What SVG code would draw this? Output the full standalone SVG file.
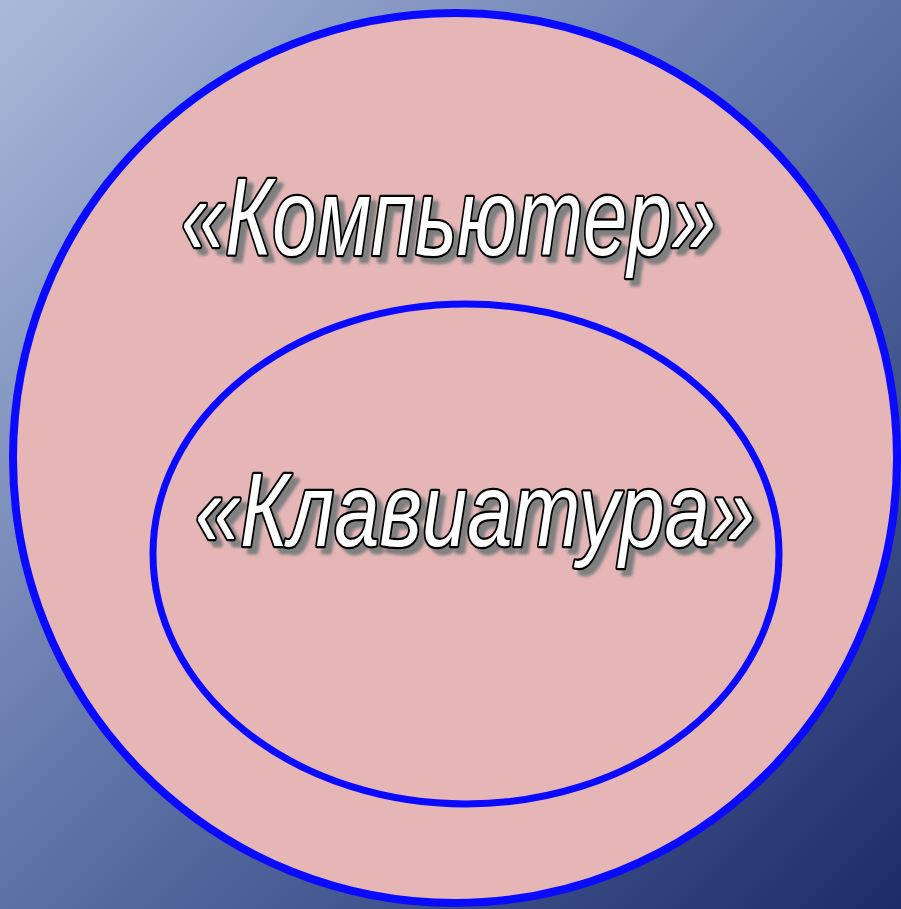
<svg xmlns="http://www.w3.org/2000/svg" width="901" height="909" viewBox="0 0 901 909">
  <defs>
    <linearGradient id="bg" x1="0" y1="0" x2="1" y2="1">
      <stop offset="0" stop-color="#aab9da"/>
      <stop offset="0.5" stop-color="#5d71a6"/>
      <stop offset="1" stop-color="#1c2c68"/>
    </linearGradient>
    <filter id="soft" x="-5%" y="-20%" width="110%" height="140%">
      <feGaussianBlur stdDeviation="1.5"/>
    </filter>
  </defs>
  <style>
    .set { fill: #e6b6b7; stroke: #0a0aff; }
    .lbl { font-family: "Liberation Sans", Arial, sans-serif; font-style: italic; }
    .shadow { fill: #808080; stroke: #808080; stroke-width: 5; stroke-linejoin: round; }
    .face { fill: #ffffff; stroke: #000000; stroke-width: 4.6; stroke-linejoin: round; paint-order: stroke; }
  </style>
  <rect x="0" y="0" width="901" height="909" fill="url(#bg)"/>
  <g id="computer">
    <ellipse class="set" cx="455" cy="458" rx="442" ry="445" stroke-width="8"/>
    <g class="lbl" font-size="110">
      <text class="shadow" x="187" y="261" textLength="535" lengthAdjust="spacingAndGlyphs" filter="url(#soft)">«Компьютер»</text>
      <text class="face" x="181" y="255" textLength="535" lengthAdjust="spacingAndGlyphs">«Компьютер»</text>
    </g>
  </g>
  <g id="keyboard">
    <ellipse class="set" cx="466" cy="554" rx="313" ry="250" stroke-width="7"/>
    <g class="lbl" font-size="104">
      <text class="shadow" x="201" y="552" textLength="560" lengthAdjust="spacingAndGlyphs" filter="url(#soft)">«Клавиатура»</text>
      <text class="face" x="195" y="546" textLength="560" lengthAdjust="spacingAndGlyphs">«Клавиатура»</text>
    </g>
  </g>
  <g id="connectors"/>
</svg>
